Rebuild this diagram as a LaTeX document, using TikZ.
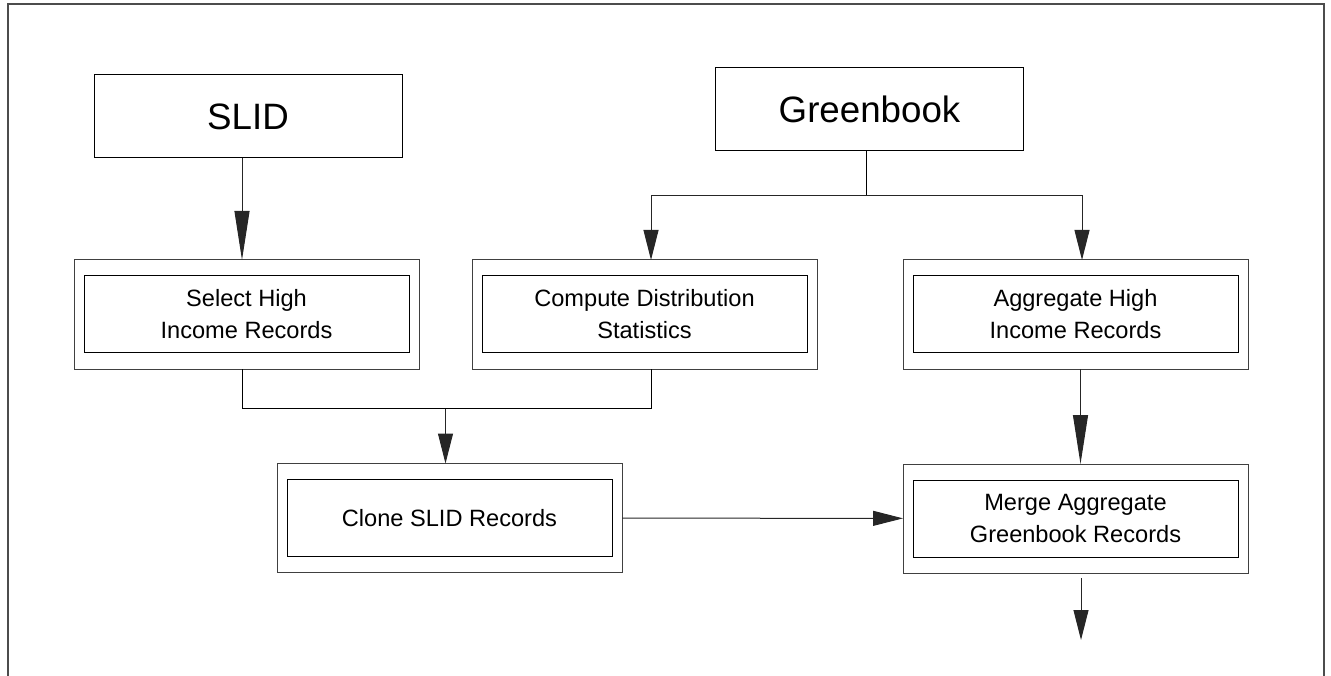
\documentclass[tikz,border=0pt]{standalone}
\usepackage{fontspec}
\setmainfont{Liberation Sans}
\usepackage{tikz}
\usetikzlibrary{arrows.meta, fit}

\begin{document}
\begin{tikzpicture}[x=1pt, y=1pt,
  src/.style={draw, line width=1pt, minimum width=308pt, minimum height=83pt,
    inner sep=0pt, outer sep=0pt, font=\fontsize{36.7}{44}\selectfont},
  proc/.style={draw, line width=1pt, minimum width=325pt, minimum height=77pt,
    inner sep=0pt, outer sep=0pt, align=center, font=\fontsize{23.6}{32}\selectfont},
  frame/.style={draw=black!75, line width=1pt, inner xsep=10pt, inner ysep=16pt, outer sep=0pt},
  arr/.style={draw=black!85, line width=1pt, -{Triangle[length=30pt, width=15pt]}},
  bigarr/.style={arr, -{Triangle[length=49pt, width=15pt]}}]
  \useasboundingbox (0,0) rectangle (1331,-676);
  \draw[black!70, line width=1.5pt] (8,-676) |- (1324,-4) -- (1324,-676);

  % sources
  \node[src] (slid)  at (248,-116.5)  {SLID};
  \node[src] (green) at (869.5,-109.5) {Greenbook};

  % processing steps
  \node[proc] (sel)   at (246.5,-314.5) {Select High\\Income Records};
  \node[proc] (comp)  at (644.5,-314.5) {Compute Distribution\\Statistics};
  \node[proc] (agg)   at (1075.5,-314.5) {Aggregate High\\Income Records};
  \node[proc] (clone) at (449.5,-518)   {Clone SLID Records};
  \node[proc] (merge) at (1075.5,-518.5) {Merge Aggregate\\Greenbook Records};
  \foreach \n in {sel, comp, agg, clone, merge}
    \node[frame, fit=(\n)] (\n F) {};

  \draw[bigarr] ([xshift=-6pt]slid.south) -- ([xshift=-6pt]slid.south |- selF.north);
  \draw ([xshift=-3.5pt]green.south) -- ++(0,-45) coordinate (gbus);
  \draw[arr] (gbus) -| ([xshift=6.5pt]compF.north);
  \draw[arr] (gbus) -| ([xshift=6.5pt]aggF.north);
  \draw ([xshift=-4.5pt]selF.south) -- ++(0,-39) -| ([xshift=6.5pt]compF.south);
  \draw[arr] ([xshift=-4pt,yshift=55pt]cloneF.north) -- ([xshift=-4pt]cloneF.north);
  \draw[arr] (cloneF) -- (mergeF);
  \draw[bigarr] ([xshift=5pt]aggF.south) -- ([xshift=5pt]mergeF.north);
  \draw[arr] ([xshift=5.5pt,yshift=-5pt]mergeF.south) -- ++(0,-62);
\end{tikzpicture}
\end{document}
